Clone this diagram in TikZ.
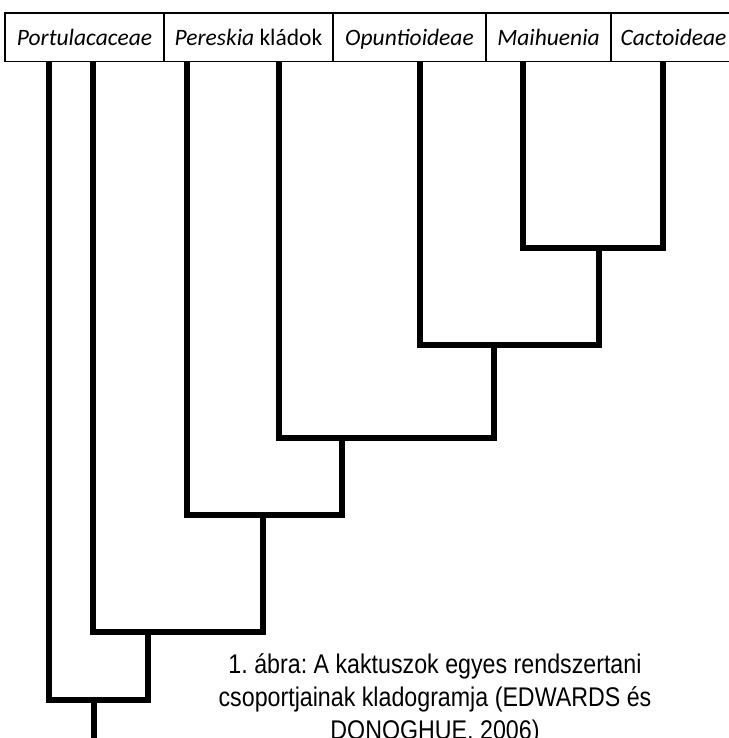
\documentclass[tikz,border=0pt]{standalone}
\usepackage{fontspec}
\setmainfont{Liberation Sans}
\newfontfamily\cladofont{Carlito}
\newfontfamily\capfont[FakeStretch=0.86]{Liberation Sans}
\usetikzlibrary{positioning}
\frenchspacing

\begin{document}
\begin{tikzpicture}
		[x=1pt, y=-1pt, node distance=0pt,
		% STYLES
		% The taxon style is used for the boxes with the names of the groups
		taxon/.style={rectangle, draw, line width=1.6pt, inner sep=0pt, outer sep=0pt, minimum height=48.5pt, text height=20pt, text depth=3.5pt, font=\cladofont\fontsize{23.5}{28}\selectfont\itshape},
		% branches of the tree
		branch/.style={line width=6.5pt, line join=miter},
		% the caption under the tree
		caption/.style={align=center, inner sep=0pt, font=\capfont\fontsize{27}{33}\selectfont}]

		\useasboundingbox (0,0) rectangle (728,738);

		% Draw taxa
		\node [taxon, minimum width=159pt, anchor=north west] (portu) at (5,13) {Portulacaceae};
		\node [taxon, minimum width=169pt, right=0pt of portu] (peresk) {Pereskia {\upshape kládok}};
		\node [taxon, minimum width=153pt, right=0pt of peresk] (opunt) {Opuntioideae};
		\node [taxon, minimum width=125pt, right=0pt of opunt] (maihu) {Maihuenia};
		\node [taxon, minimum width=125pt, right=0pt of maihu] (cacto) {Cactoideae};

		%%%%%%%%%%%%%%%
		% Tips and splits
		\coordinate (portu-a) at (49,62);
		\coordinate (portu-b) at (93,62);
		\coordinate (peresk-a) at (187,62);
		\coordinate (peresk-b) at (279,62);
		\coordinate (opunt-a) at (420,62);
		\coordinate (maihu-a) at (523,62);
		\coordinate (cacto-a) at (663,62);

		\coordinate (split1) at (599,248);
		\coordinate (split2) at (494,345);
		\coordinate (split3) at (342,438);
		\coordinate (split4) at (263,515);
		\coordinate (split5) at (148,632);
		\coordinate (split6) at (94,700);
		\coordinate (root) at (94,740);

		%%%%%%%%%%%%%%%%
		% Draw the branches
		\draw[branch] (maihu-a) |- (split1) -| (cacto-a);
		\draw[branch] (opunt-a) |- (split2) -| (split1);
		\draw[branch] (peresk-b) |- (split3) -| (split2);
		\draw[branch] (peresk-a) |- (split4) -| (split3);
		\draw[branch] (portu-b) |- (split5) -| (split4);
		\draw[branch] (portu-a) |- (split6) -| (split5);
		\draw[branch] (split6) -- (root);

		% Caption
		\node [caption, anchor=north] (cap) at (435,653) {1. ábra: A kaktuszok egyes rendszertani\\
			csoportjainak kladogramja (EDWARDS és\\
			DONOGHUE, 2006)};
\end{tikzpicture}
\end{document}
